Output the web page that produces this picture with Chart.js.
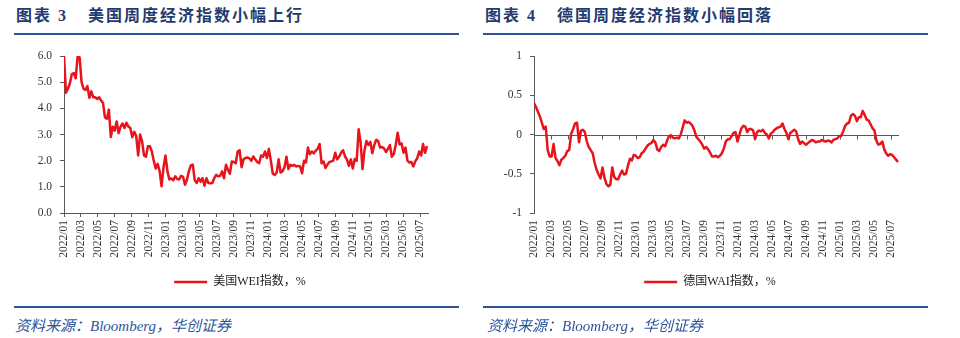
<!DOCTYPE html>
<html>
<head>
<meta charset="utf-8">
<script src="https://cdn.jsdelivr.net/npm/chart.js@4"></script>
<style>
  body { margin: 0; width: 960px; height: 338px; background: #fff; position: relative; overflow: hidden;
         font-family: "Liberation Serif", "Noto Sans CJK SC", serif; }
  .title { position: absolute; top: 6px; font-size: 16px; font-weight: bold; color: #1f3b70;
           letter-spacing: 2px; line-height: 20px; white-space: nowrap; }
  .rule { position: absolute; height: 2px; width: 445px; background: #2c5597; }
  .src { position: absolute; top: 316px; font-size: 15px; font-style: italic; color: #2c5597;
         line-height: 20px; white-space: nowrap; }
  canvas { position: absolute; top: 40px; }
</style>
</head>
<body>
<div class="title" style="left:16px">图表 3</div>
<div class="title" style="left:88px">美国周度经济指数小幅上行</div>
<div class="title" style="left:485px">图表 4</div>
<div class="title" style="left:557px">德国周度经济指数小幅回落</div>
<div class="rule" style="left:14px; top:33px"></div>
<div class="rule" style="left:483px; top:33px"></div>

<canvas id="us-chart" width="480" height="258" style="left:0px"></canvas>
<canvas id="de-chart" width="480" height="258" style="left:470px"></canvas>

<div class="rule" style="left:14px; top:306px"></div>
<div class="rule" style="left:483px; top:306px"></div>
<div class="src" style="left:15px">资料来源：Bloomberg，华创证券</div>
<div class="src" style="left:487px">资料来源：Bloomberg，华创证券</div>

<script>
// weekly readings, first week of 2022/01 onward
const usWei = [
  6.0, 4.6, 4.75, 4.95, 5.3, 5.35, 5.15, 6.0, 5.95, 5.0,
  4.75, 4.7, 4.85, 4.4, 4.65, 4.42, 4.42, 4.36, 4.42, 4.3,
  4.2, 3.65, 3.6, 3.95, 2.9, 3.3, 3.15, 3.5, 3.05, 3.3,
  3.42, 3.25, 3.45, 3.3, 3.25, 2.9, 3.1, 2.95, 2.2, 3.0,
  2.75, 2.2, 2.15, 2.55, 2.55, 2.35, 2.0, 1.7, 1.88, 1.6,
  1.02, 1.75, 2.2, 1.6, 1.28, 1.32, 1.25, 1.4, 1.3, 1.28,
  1.42, 1.38, 1.08, 1.27, 1.6, 1.82, 1.85, 1.25, 1.15, 1.33,
  1.2, 1.33, 1.04, 1.33, 1.15, 1.14, 1.15, 1.33, 1.46, 1.4,
  1.42, 1.59, 1.33, 1.84, 1.65, 1.5, 1.97, 1.95, 1.9, 2.35,
  2.4, 1.75, 2.05, 2.1, 2.12, 2.09, 2.0, 2.16, 2.05, 1.95,
  1.9, 2.2, 2.15, 2.35, 2.1, 2.45, 2.0, 1.5, 1.45, 1.55,
  2.05, 1.55, 1.6, 1.75, 2.15, 1.68, 1.84, 1.8, 1.84, 1.78,
  1.8, 1.78, 1.52, 2.0, 1.93, 2.5, 2.25, 2.35, 2.28, 2.38,
  2.45, 2.64, 1.9, 1.97, 1.72, 1.85, 1.95, 1.97, 2.0, 2.3,
  2.05, 2.15, 2.3, 2.4, 2.16, 2.05, 1.8, 2.05, 1.7, 2.06,
  2.0, 3.2, 2.7, 1.68, 2.4, 2.75, 2.6, 2.72, 2.28, 2.6,
  2.8, 2.75, 2.5, 2.52, 2.47, 2.33, 2.45, 2.6, 2.15, 2.25,
  2.6, 3.07, 2.62, 2.66, 2.3, 2.5, 2.0, 1.93, 1.95, 1.78,
  1.97, 2.09, 2.35, 2.2, 2.64, 2.3, 2.56
];

const deWai = [
  0.40, 0.35, 0.29, 0.23, 0.15, 0.07, 0.10, -0.20, -0.28, -0.28,
  -0.12, -0.30, -0.34, -0.39, -0.32, -0.30, -0.27, -0.21, -0.20, 0.01,
  0.07, 0.14, 0.15, -0.10, 0.05, 0.06, 0.03, -0.09, -0.16, -0.20,
  -0.24, -0.36, -0.45, -0.51, -0.56, -0.42, -0.55, -0.63, -0.66, -0.64,
  -0.42, -0.54, -0.57, -0.57, -0.51, -0.46, -0.51, -0.50, -0.40, -0.31,
  -0.33, -0.26, -0.27, -0.30, -0.29, -0.24, -0.22, -0.18, -0.14, -0.12,
  -0.11, -0.07, -0.10, -0.19, -0.21, -0.16, -0.13, -0.15, -0.08, -0.02,
  -0.01, -0.04, -0.05, -0.04, -0.05, 0.00, 0.09, 0.18, 0.15, 0.16,
  0.14, 0.11, 0.05, -0.03, -0.06, -0.09, -0.13, -0.18, -0.16, -0.19,
  -0.23, -0.28, -0.28, -0.27, -0.29, -0.27, -0.24, -0.18, -0.09, -0.06,
  -0.06, -0.02, 0.02, 0.03, -0.09, 0.00, 0.08, 0.11, 0.10, 0.03,
  0.07, 0.07, 0.05, -0.06, 0.03, 0.05, 0.04, 0.06, 0.02, 0.00,
  -0.05, 0.01, 0.03, 0.06, 0.08, 0.09, 0.10, 0.14, 0.07, 0.02,
  -0.06, 0.02, 0.04, 0.06, 0.04, -0.06, -0.12, -0.09, -0.11, -0.13,
  -0.11, -0.09, -0.07, -0.08, -0.10, -0.09, -0.09, -0.07, -0.08, -0.09,
  -0.08, -0.08, -0.10, -0.07, -0.06, -0.05, -0.02, -0.02, 0.04, 0.11,
  0.14, 0.15, 0.24, 0.26, 0.24, 0.17, 0.22, 0.22, 0.30, 0.25,
  0.19, 0.18, 0.13, 0.08, 0.05, -0.08, -0.13, -0.12, -0.09, -0.19,
  -0.24, -0.27, -0.25, -0.26, -0.29, -0.32, -0.35
];

const monthLabels = [
  '2022/01', '2022/03', '2022/05', '2022/07', '2022/09', '2022/11',
  '2023/01', '2023/03', '2023/05', '2023/07', '2023/09', '2023/11',
  '2024/01', '2024/03', '2024/05', '2024/07', '2024/09', '2024/11',
  '2025/01', '2025/03', '2025/05', '2025/07'
];
const usTicks = [0, 1, 2, 3, 4, 5, 6];
const usTickLabels = ['0.0', '1.0', '2.0', '3.0', '4.0', '5.0', '6.0'];
const deTicks = [-1, -0.5, 0, 0.5, 1];
const deTickLabels = ['-1', '-0.5', '0', '0.5', '1'];

const axisColor = '#595959';
const lineColor = '#e8141b';
const tickFont = { family: 'Liberation Serif', size: 11.5 };

// months since 2022/01 for each week, used as x
const monthTicks = monthLabels.map((_, i) => i * 2);
const toPoints = arr => arr.map((v, i) => ({ x: i * 7 / 30.4375, y: v }));

function xScale(showAxis) {
  return {
    type: 'linear',
    min: 0,
    max: 42.9,
    afterBuildTicks: s => { s.ticks = monthTicks.map(v => ({ value: v })); },
    afterFit: s => { s.height = 53; },
    ticks: {
      autoSkip: false, minRotation: 90, maxRotation: 90, padding: 3,
      color: '#333', font: tickFont,
      callback: (v, i) => monthLabels[i]
    },
    grid: { display: showAxis, drawOnChartArea: false, drawTicks: true, tickLength: 4, color: axisColor },
    border: { display: showAxis, color: axisColor }
  };
}

function yScale(min, max, ticks, labels) {
  return {
    min: min,
    max: max,
    afterBuildTicks: s => { s.ticks = ticks.map(v => ({ value: v })); },
    afterFit: s => { s.width = 64; },
    ticks: { color: '#333', font: tickFont, padding: 8, callback: (v, i) => labels[i] },
    grid: { drawOnChartArea: false, tickLength: 4, color: axisColor },
    border: { color: axisColor }
  };
}

// empty right axis: holds the plot's right margin so the legend
// stays centred on the whole panel
function spacer(width) {
  return {
    position: 'right',
    afterFit: s => { s.width = width; },
    ticks: { display: false },
    grid: { display: false },
    border: { display: false }
  };
}

// zero line with tick marks for the German chart
const zeroAxis = {
  id: 'zeroAxis',
  beforeDatasetsDraw(chart) {
    const { ctx, chartArea, scales: { x, y } } = chart;
    const y0 = Math.round(y.getPixelForValue(0)) + 0.5;
    ctx.save();
    ctx.strokeStyle = axisColor;
    ctx.lineWidth = 1;
    ctx.beginPath();
    ctx.moveTo(chartArea.left, y0);
    ctx.lineTo(chartArea.right, y0);
    x.ticks.forEach(t => {
      const px = Math.round(x.getPixelForValue(t.value)) + 0.5;
      ctx.moveTo(px, y0);
      ctx.lineTo(px, y0 + 4);
    });
    ctx.stroke();
    ctx.restore();
  }
};

function makeChart(id, label, series, y, showX, rightPad, plugins) {
  return new Chart(document.getElementById(id).getContext('2d'), {
    type: 'line',
    data: {
      datasets: [{
        label: label,
        data: toPoints(series),
        borderColor: lineColor,
        backgroundColor: lineColor,
        borderWidth: 2.5,
        borderJoinStyle: 'round',
        pointRadius: 0,
        tension: 0
      }]
    },
    options: {
      responsive: false,
      animation: false,
      layout: { padding: { top: 16, right: 0, left: 0, bottom: 0 } },
      scales: { x: xScale(showX), y: y, pad: spacer(rightPad) },
      plugins: {
        tooltip: { enabled: false },
        legend: {
          position: 'bottom',
          labels: {
            usePointStyle: true, pointStyle: 'line', pointStyleWidth: 33, padding: 10,
            color: '#222', font: { family: "'Liberation Serif', 'Noto Sans CJK SC'", size: 12 }
          }
        }
      }
    },
    plugins: plugins
  });
}

makeChart('us-chart', '美国WEI指数，%', usWei, yScale(0, 6, usTicks, usTickLabels), true, 52, []);
makeChart('de-chart', '德国WAI指数，%', deWai, yScale(-1, 1, deTicks, deTickLabels), false, 51, [zeroAxis]);
</script>
</body>
</html>
